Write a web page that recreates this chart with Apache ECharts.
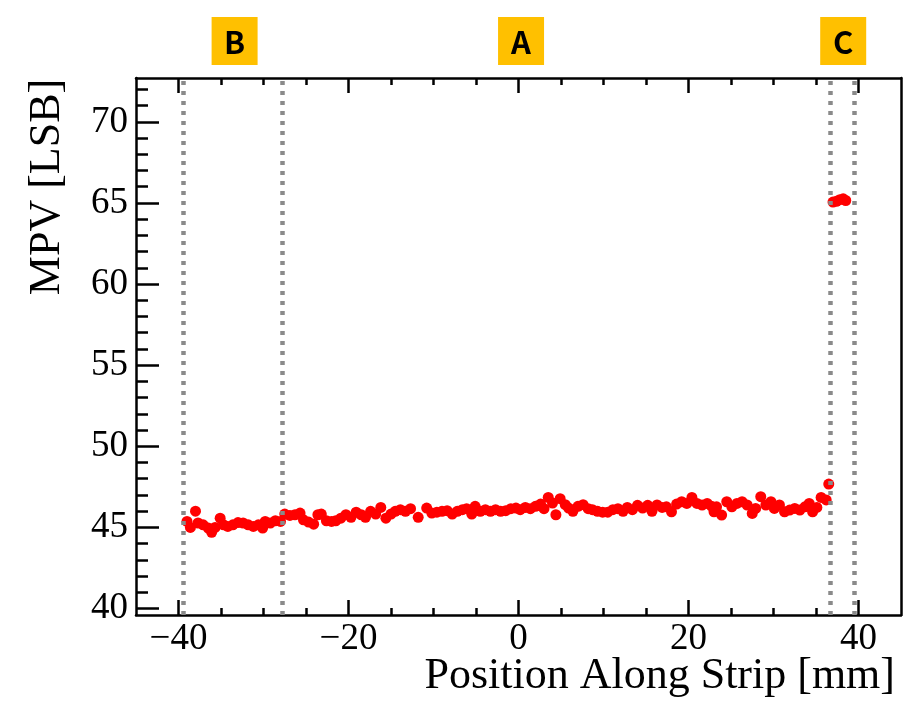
<!DOCTYPE html>
<html>
<head>
<meta charset="utf-8">
<script src="https://cdn.jsdelivr.net/npm/echarts@6/dist/echarts.min.js"></script>
<style>
  html, body { margin: 0; padding: 0; background: #fff; }
  #chart { width: 907px; height: 702px; }
</style>
</head>
<body>
<div id="chart"></div>
<script>
// positions along the strip [mm] and MPV values [LSB]
var posMain = [-39.0, -38.6, -38.0, -37.7, -37.1, -36.5, -36.1, -35.7, -35.1, -34.7,
  -34.2, -33.6, -33.0, -32.4, -31.8, -31.2, -30.6, -30.1, -29.8, -29.2,
  -28.6, -28.0, -27.5, -26.9, -26.3, -25.7, -25.3, -24.7, -24.1, -23.6,
  -23.2, -22.6, -22.0, -21.5, -20.9, -20.3, -19.7, -19.1, -18.5, -18.0,
  -17.4, -16.8, -16.2, -15.6, -15.0, -14.5, -13.9, -13.3, -12.7,
  -11.8, -10.8, -10.2, -9.6, -9.0, -8.4, -7.8, -7.2, -6.6, -6.1,
  -5.5, -5.1, -4.5, -3.9, -3.3, -2.7, -2.1, -1.5, -0.9, -0.3,
  0.2, 0.8, 1.4, 2.0, 2.6, 3.0, 3.5, 4.0, 4.4, 4.9,
  5.5, 5.9, 6.4, 7.0, 7.6, 8.2, 8.7, 9.3, 9.9, 10.5,
  11.1, 11.7, 12.3, 12.8, 13.4, 14.0, 14.6, 15.2, 15.7,
  16.3, 16.9, 17.4, 18.0, 18.6, 19.2, 19.8, 20.4, 21.0, 21.6,
  22.2, 22.7, 23.0, 23.3, 23.9, 24.5, 25.1, 25.7, 26.3, 26.9,
  27.5, 27.9, 28.5, 29.1, 29.7, 30.1, 30.7, 31.3, 31.9, 32.5,
  33.1, 33.7, 34.2, 34.6, 35.1, 35.6, 36.2, 36.5];
var mpvMain = [45.37, 45.0, 46.0, 45.27, 45.16, 44.96, 44.7, 45.0, 45.57, 45.16,
  45.06, 45.16, 45.3, 45.27, 45.16, 45.06, 45.16, 44.96, 45.37, 45.27,
  45.41, 45.37, 45.82, 45.74, 45.78, 45.88, 45.47, 45.33, 45.2, 45.78,
  45.82, 45.41, 45.37, 45.41, 45.57, 45.78, 45.62, 45.94, 45.78, 45.62,
  45.99, 45.82, 46.23, 45.57, 45.82, 45.99, 46.09, 45.99, 46.15,
  45.62, 46.19, 45.88, 45.94, 45.99, 46.03, 45.82, 45.99, 46.09, 46.15,
  45.82, 46.3, 45.99, 46.09, 45.99, 46.09, 45.99, 46.03, 46.15, 46.19,
  46.09, 46.23, 46.15, 46.3, 46.44, 46.15, 46.85, 46.5, 45.78, 46.77,
  46.4, 46.19, 45.99, 46.3, 46.4, 46.15, 46.09, 45.99, 45.94, 45.94,
  46.09, 46.15, 45.99, 46.23, 46.09, 46.36, 46.19, 46.36, 45.99,
  46.38, 46.23, 46.27, 45.96, 46.44, 46.58, 46.48, 46.85, 46.48, 46.38,
  46.48, 46.31, 45.96, 46.27, 45.76, 46.58, 46.27, 46.48, 46.58, 46.38,
  45.86, 46.17, 46.89, 46.38, 46.58, 46.17, 46.38, 45.96, 46.07, 46.17,
  46.07, 46.27, 46.48, 45.96, 46.23, 46.85, 46.69, 47.67];
var posEdge = [37.0, 37.4, 37.8, 38.2, 38.5];
var mpvEdge = [65.05, 65.1, 65.2, 65.25, 65.15];

var regionBounds = [-39.5, -27.8, 36.7, 39.5];
var regionNames = ['B', 'A', 'C'];
var regionCenters = [-33.4, 0.3, 38.2];

var xMajor = [-40, -20, 0, 20, 40];
var xMinor = [-35, -30, -25, -15, -10, -5, 5, 10, 15, 25, 30, 35];
var yMajor = [40, 45, 50, 55, 60, 65, 70];
var yMinor = [41, 42, 43, 44, 46, 47, 48, 49, 51, 52, 53, 54, 56, 57, 58, 59,
  61, 62, 63, 64, 66, 67, 68, 69, 71, 72];

var points = [];
posMain.forEach(function (x, i) { points.push([x, mpvMain[i]]); });
posEdge.forEach(function (x, i) { points.push([x, mpvEdge[i]]); });

var serif = 'Liberation Serif';
var black = { color: '#000', width: 2.5 };

function xAxisPart(position, ticks, len, withLine, withLabel) {
  return {
    type: 'value', min: -45, max: 45, position: position,
    axisLine: { show: withLine, onZero: false, lineStyle: black },
    axisTick: { show: true, inside: true, length: len, customValues: ticks,
      lineStyle: { color: '#000', width: 2.5 } },
    axisLabel: withLabel ? {
      customValues: ticks, margin: 6, color: '#000', fontFamily: serif, fontSize: 37,
      formatter: function (v) { return v < 0 ? '\u2212' + (-v) : String(v); }
    } : { show: false },
    splitLine: { show: false }
  };
}
function yAxisPart(position, ticks, len, withLine, withLabel) {
  return {
    type: 'value', min: 39.6, max: 72.7, position: position,
    axisLine: { show: withLine, onZero: false, lineStyle: black },
    axisTick: { show: ticks.length > 0, inside: true, length: len, customValues: ticks,
      lineStyle: { color: '#000', width: 2.5 } },
    axisLabel: withLabel ? {
      customValues: ticks, margin: 8, color: '#000', fontFamily: serif, fontSize: 37
    } : { show: false },
    splitLine: { show: false }
  };
}

var chart = echarts.init(document.getElementById('chart'));
var option = {
  backgroundColor: '#fff',
  animation: false,
  grid: { left: 136, right: 6, top: 78, bottom: 87 },
  xAxis: [
    xAxisPart('bottom', xMajor, 15, true, true),
    xAxisPart('bottom', xMinor, 7, false, false),
    xAxisPart('top', xMajor, 15, true, false),
    xAxisPart('top', xMinor, 7, false, false)
  ],
  yAxis: [
    yAxisPart('left', yMajor, 23, true, true),
    yAxisPart('left', yMinor, 12, false, false),
    yAxisPart('right', [], 0, true, false)
  ],
  series: [
    {
      type: 'scatter',
      data: [],
      z: 1,
      markLine: {
        silent: true,
        symbol: 'none',
        label: { show: false },
        lineStyle: { color: '#8a8a8a', width: 4.5, type: [4, 6], cap: 'butt', opacity: 1 },
        emphasis: { disabled: true },
        data: regionBounds.map(function (v) { return { xAxis: v }; })
      }
    },
    {
      type: 'scatter',
      data: points,
      z: 3,
      symbol: 'circle',
      symbolSize: 11,
      itemStyle: { color: '#ff0000', opacity: 1 }
    }
  ]
};
chart.setOption(option);

var graphics = [
  {
    type: 'text',
    right: 12, bottom: 4,
    style: { text: 'Position Along Strip [mm]', fill: '#000', font: '44px "Liberation Serif"' }
  },
  {
    type: 'text',
    x: 47, y: 187, rotation: Math.PI / 2,
    style: { text: 'MPV [LSB]', fill: '#000', font: '44px "Liberation Serif"',
      align: 'center', verticalAlign: 'middle' }
  }
];
regionNames.forEach(function (name, i) {
  var cx = chart.convertToPixel({ xAxisIndex: 0 }, regionCenters[i]);
  graphics.push({
    type: 'rect',
    shape: { x: cx - 23, y: 17, width: 46, height: 48 },
    style: { fill: '#ffc000' }
  });
  graphics.push({
    type: 'text',
    x: cx, y: 42,
    style: { text: name, fill: '#000', font: 'bold 31px "Noto Sans CJK SC"',
      align: 'center', verticalAlign: 'middle' }
  });
});
chart.setOption({ graphic: graphics });

window.addEventListener('resize', function () { chart.resize(); });
</script>
</body>
</html>
